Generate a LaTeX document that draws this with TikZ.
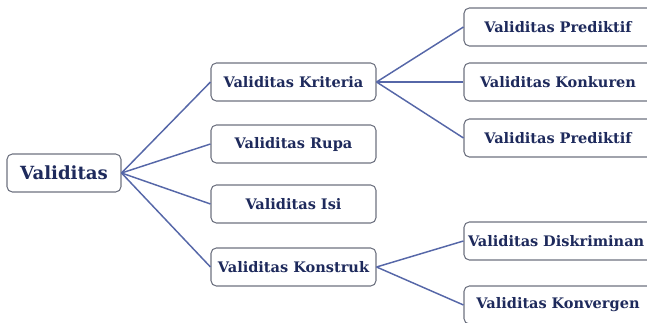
\documentclass[tikz,border=0pt]{standalone}
\usepackage{fontspec}
\setmainfont{DejaVu Serif}
\begin{document}
\begin{tikzpicture}[x=0.75pt,y=-0.75pt,
  box/.style={draw=boxline, line width=0.8pt, rounded corners=4pt, fill=white,
    minimum height=28.5pt, inner sep=0pt, text=navy, font=\bfseries\fontsize{10.9}{12}\selectfont},
  conn/.style={draw=linkblue, line width=1.1pt}]
\definecolor{navy}{HTML}{1E2A5C}
\definecolor{boxline}{HTML}{6E7280}
\definecolor{linkblue}{HTML}{5667A8}
\clip (0,0) rectangle (647,323);
\useasboundingbox (0,0) rectangle (647,323);
\node[box, minimum width=85.5pt, font=\bfseries\fontsize{13.6}{15}\selectfont] (root) at (64,173) {Validitas};
\node[box, minimum width=123.75pt] (krit) at (293.5,82) {Validitas Kriteria};
\node[box, minimum width=123.75pt] (rupa) at (293.5,144) {Validitas Rupa};
\node[box, minimum width=123.75pt] (isi) at (293.5,204) {Validitas Isi};
\node[box, minimum width=123.75pt] (kons) at (293.5,267) {Validitas Konstruk};
\node[box, minimum width=141pt, text width=141pt, align=center] (pred1) at (558,27) {Validitas Prediktif};
\node[box, minimum width=141pt, text width=141pt, align=center] (konk) at (558,82) {Validitas Konkuren};
\node[box, minimum width=141pt, text width=141pt, align=center] (pred2) at (558,138) {Validitas Prediktif};
\node[box, minimum width=141pt, text width=135pt, align=left] (disk) at (558,241) {Validitas Diskriminan};
\node[box, minimum width=141pt, text width=141pt, align=center] (konv) at (558,305) {Validitas Konvergen};
\draw[conn] (root.east) -- (krit.west);
\draw[conn] (root.east) -- (rupa.west);
\draw[conn] (root.east) -- (isi.west);
\draw[conn] (root.east) -- (kons.west);
\draw[conn] (krit.east) -- (pred1.west);
\draw[conn] (krit.east) -- (konk.west);
\draw[conn] (krit.east) -- (pred2.west);
\draw[conn] (kons.east) -- (disk.west);
\draw[conn] (kons.east) -- (konv.west);
\end{tikzpicture}
\end{document}
